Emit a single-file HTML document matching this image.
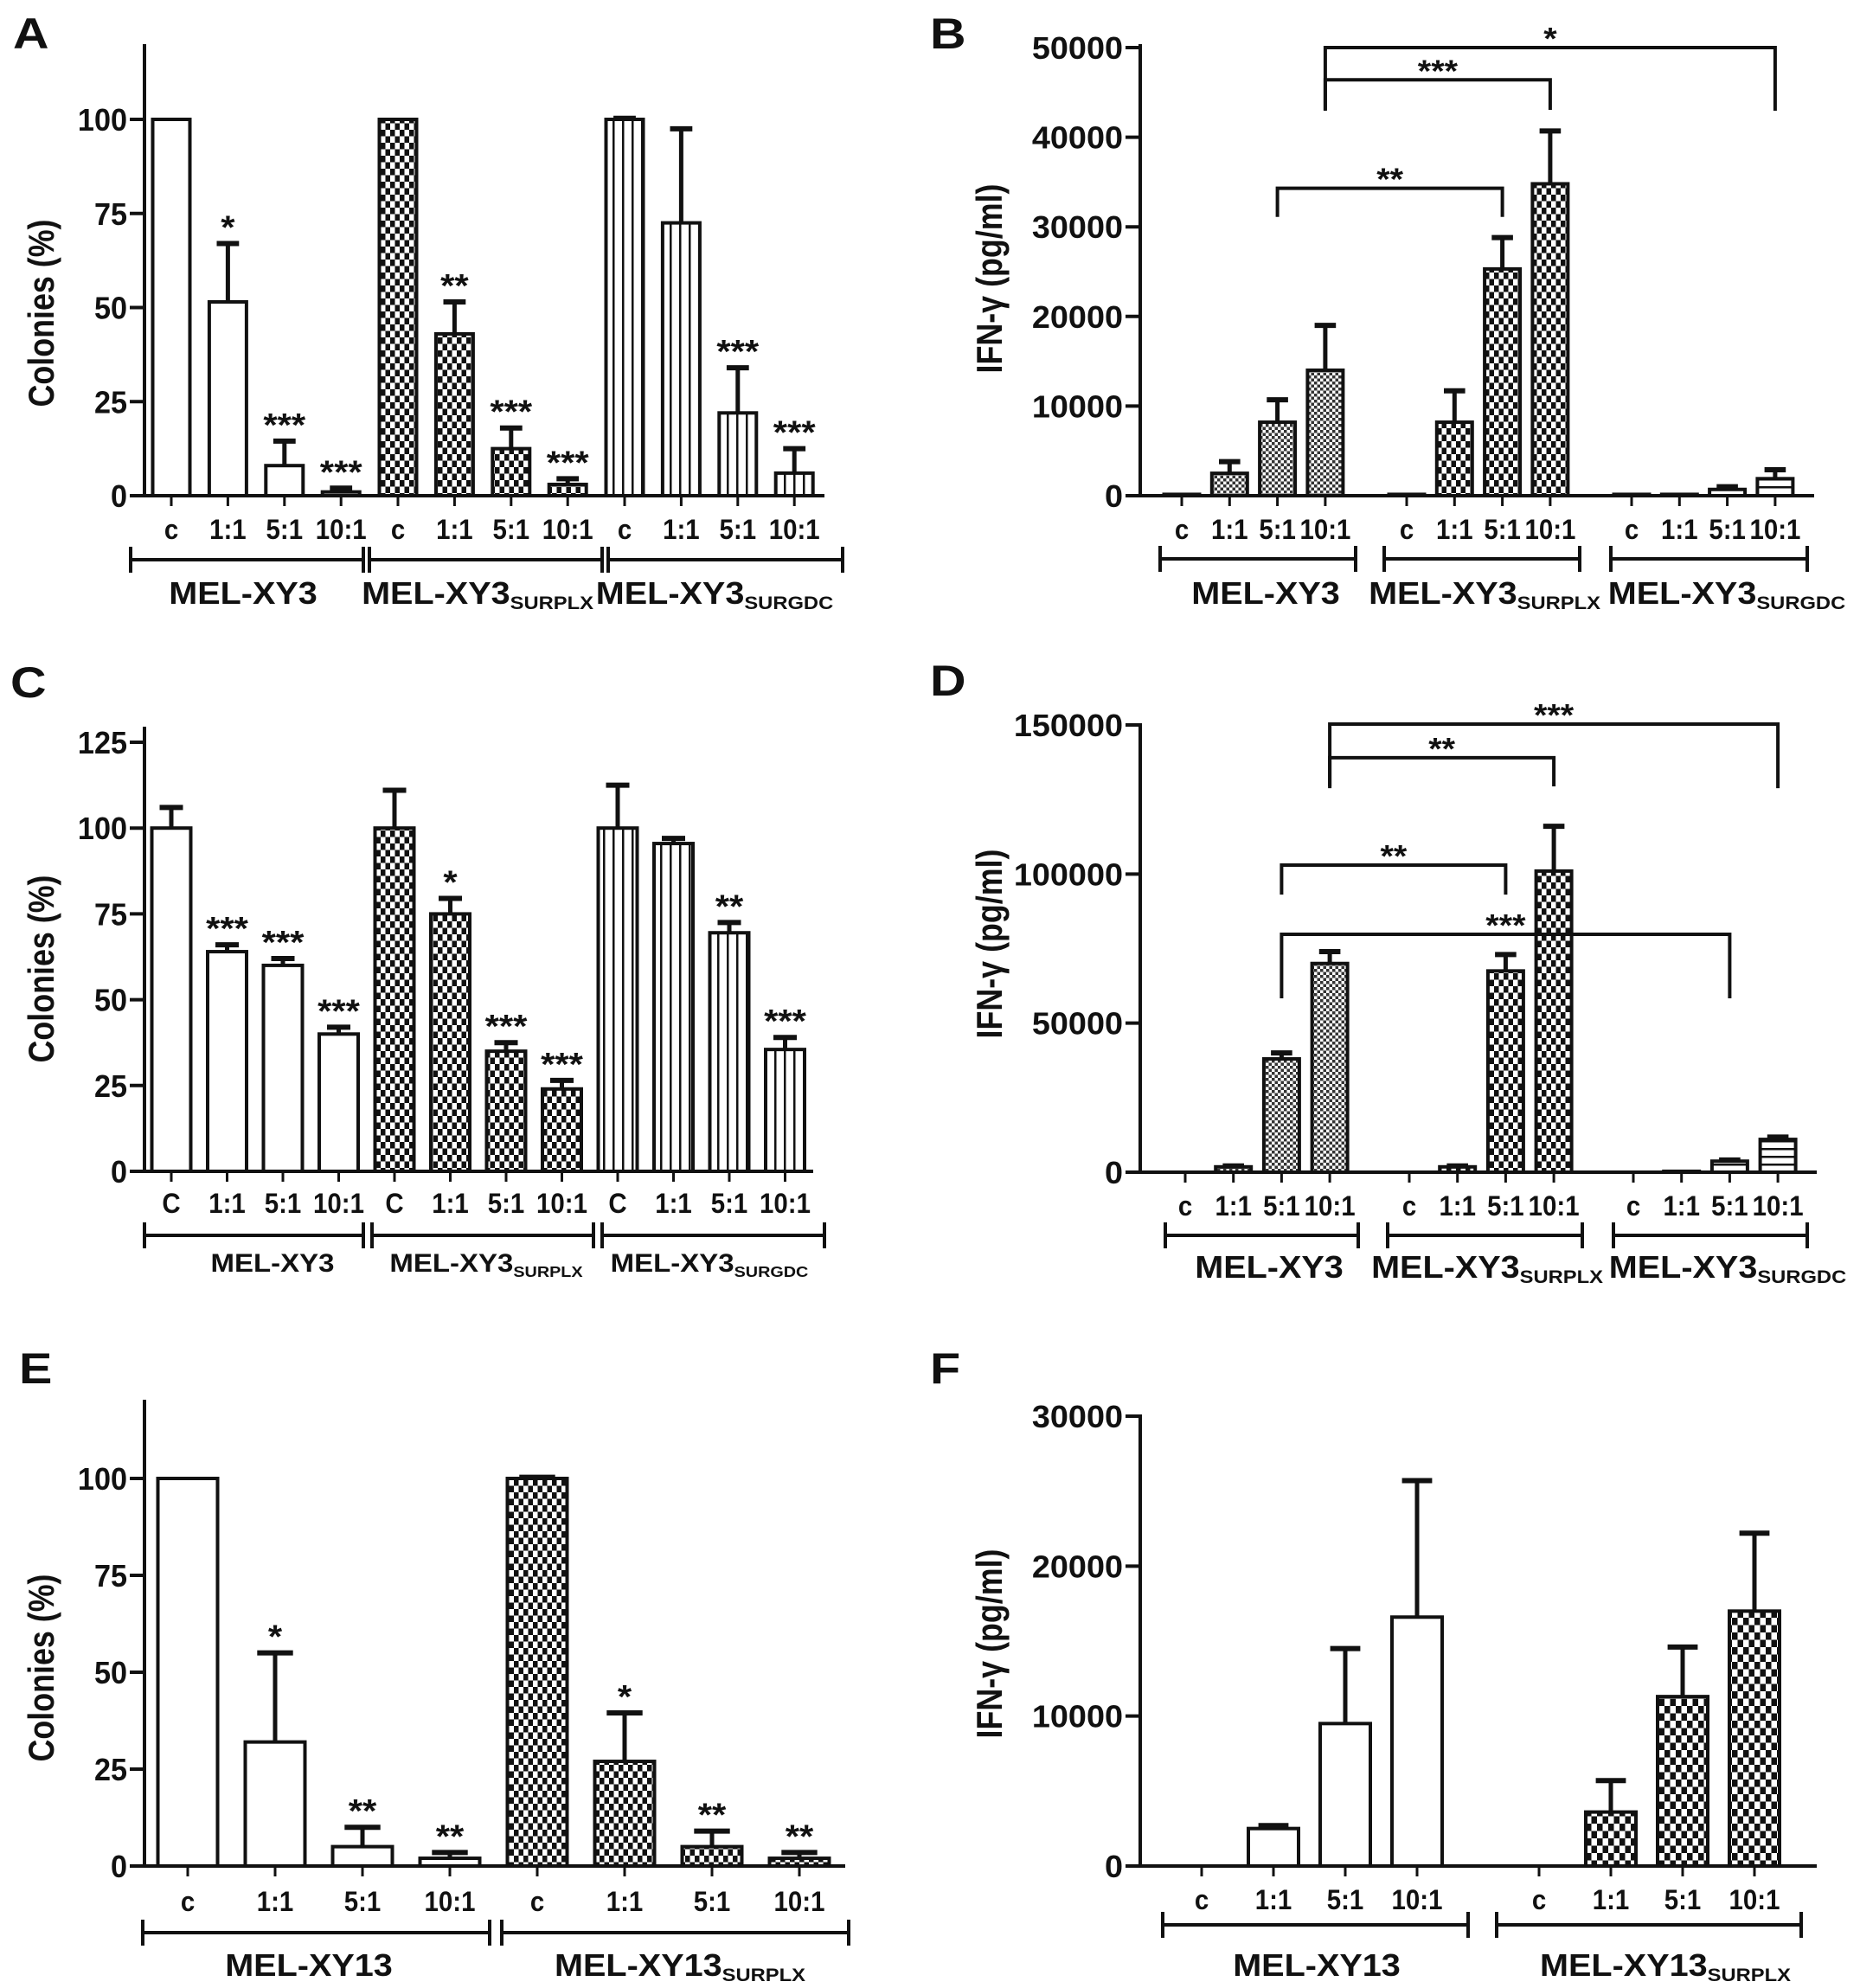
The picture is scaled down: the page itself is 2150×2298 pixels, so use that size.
<!DOCTYPE html>
<html><head><meta charset="utf-8"><style>
html,body{margin:0;padding:0;background:#fff;}
svg{display:block;font-family:"Liberation Sans",Arial,sans-serif;font-weight:bold;}
</style></head><body>
<svg id="chart" width="2150" height="2298" viewBox="0 0 2150 2298" xmlns="http://www.w3.org/2000/svg">
<defs>
<pattern id="p-check" width="11" height="15" patternUnits="userSpaceOnUse"><rect width="11" height="15" fill="#fff"/><rect width="5.5" height="7.5" fill="#111"/><rect x="5.5" y="7.5" width="5.5" height="7.5" fill="#111"/></pattern>
<pattern id="p-fine" width="7" height="7" patternUnits="userSpaceOnUse"><rect width="7" height="7" fill="#fff"/><rect width="3.5" height="3.5" fill="#333"/><rect x="3.5" y="3.5" width="3.5" height="3.5" fill="#333"/></pattern>
<pattern id="p-vlines" width="11" height="10" patternUnits="userSpaceOnUse"><rect width="11" height="10" fill="#fff"/><rect x="4" width="2.5" height="10" fill="#111"/></pattern>
<pattern id="p-hlines" width="10" height="9" patternUnits="userSpaceOnUse"><rect width="10" height="9" fill="#fff"/><rect y="4" width="10" height="2.5" fill="#111"/></pattern>
<pattern id="p-checkF" width="13" height="17" patternUnits="userSpaceOnUse"><rect width="13" height="17" fill="#fff"/><rect width="6.5" height="8.5" fill="#111"/><rect x="6.5" y="8.5" width="6.5" height="8.5" fill="#111"/></pattern>
</defs>
</svg>
<script>
// ---------- Panel A data ----------
const A_cats = ['c','1:1','5:1','10:1','c','1:1','5:1','10:1','c','1:1','5:1','10:1'];
const A_vals = [100,51.5,8,1,100,43,12.5,3,100,72.5,22,6];
const A_errs = [0,15.5,6.5,1,0,8.5,5.5,1.5,0.3,25,12,6.5];
const A_stars = ['','*','***','***','','**','***','***','','','***','***'];
const A_ticks = [0,25,50,75,100];
const A_groups = [['MEL-XY3',''],['MEL-XY3','SURPLX'],['MEL-XY3','SURGDC']];
// ---------- Panel B data ----------
const B_cats = ['c','1:1','5:1','10:1','c','1:1','5:1','10:1','c','1:1','5:1','10:1'];
const B_vals = [150,2500,8200,14000,150,8200,25300,34800,150,150,700,1900];
const B_errs = [0,1300,2500,5000,0,3500,3500,5900,0,0,300,1000];
const B_ticks = [0,10000,20000,30000,40000,50000];
const B_groups = [['MEL-XY3',''],['MEL-XY3','SURPLX'],['MEL-XY3','SURGDC']];
const B_brFrom = [3,3,2];
const B_brTo = [11,7,6];
const B_brLevel = [50000,46400,34300];
const B_brDrop = [42950,43050,31100];
const B_brLabel = ['*','***','**'];
// ---------- Panel C data ----------
const C_cats = ['C','1:1','5:1','10:1','C','1:1','5:1','10:1','C','1:1','5:1','10:1'];
const C_vals = [100,64,60,40,100,75,35,24,100,95.5,69.5,35.5];
const C_errs = [6,2,2,2,11,4.5,2.5,2.5,12.5,1.5,3,3.5];
const C_stars = ['','***','***','***','','*','***','***','','','**','***'];
const C_ticks = [0,25,50,75,100,125];
const C_groups = [['MEL-XY3',''],['MEL-XY3','SURPLX'],['MEL-XY3','SURGDC']];
// ---------- Panel D data ----------
const D_cats = ['c','1:1','5:1','10:1','c','1:1','5:1','10:1','c','1:1','5:1','10:1'];
const D_vals = [0,1800,38000,70000,0,1800,67500,101000,0,300,3700,11000];
const D_errs = [0,300,2000,4000,0,300,5500,15000,0,0,400,800];
const D_ticks = [0,50000,100000,150000];
const D_groups = [['MEL-XY3',''],['MEL-XY3','SURPLX'],['MEL-XY3','SURGDC']];
const D_brFrom = [3,3,2,2];
const D_brTo = [11,7,6,10];
const D_brLevel = [150300,139000,103000,79800];
const D_brDrop = [128800,129400,93100,58300];
const D_brLabel = ['***','**','**','***'];
// ---------- Panel E data ----------
const E_cats = ['c','1:1','5:1','10:1','c','1:1','5:1','10:1'];
const E_vals = [100,32,5,2,100,27,5,2];
const E_errs = [0,23,5,1.5,0.3,12.5,4,1.5];
const E_stars = ['','*','**','**','','*','**','**'];
const E_ticks = [0,25,50,75,100];
const E_groups = [['MEL-XY13',''],['MEL-XY13','SURPLX']];
// ---------- Panel F data ----------
const F_cats = ['c','1:1','5:1','10:1','c','1:1','5:1','10:1'];
const F_vals = [0,2500,9500,16600,0,3600,11300,17000];
const F_errs = [0,200,5000,9100,0,2100,3300,5200];
const F_ticks = [0,10000,20000,30000];
const F_groups = [['MEL-XY13',''],['MEL-XY13','SURPLX']];

const NS = 'http://www.w3.org/2000/svg';
const svg = document.getElementById('chart');
function mk(tag, attrs, parent){
  const e = document.createElementNS(NS, tag);
  for (const k in attrs) e.setAttribute(k, attrs[k]);
  parent.appendChild(e);
  return e;
}
function txt(str, x, y, size, sx, anchor, parent, rot, sy){
  const t = mk('text', {'font-size':size, 'text-anchor':anchor, fill:'#111',
    transform: rot ? `translate(${x},${y}) rotate(-90) scale(${sx},${sy||1})` : `translate(${x},${y}) scale(${sx},${sy||1})`}, parent);
  t.textContent = str;
  return t;
}

function drawPanel(cfg, cats, vals, errs, stars, ticks, groups, br){
  const g = mk('g', {}, svg);
  
  
  const k = (cfg.y0 - cfg.yRef) / cfg.vRef;
  const ys = v => cfg.y0 - v * k;
  const n = cats.length;
  const per = n / cfg.groupStarts.length;
  const xs = i => cfg.groupStarts[Math.floor(i / per)] + (i % per) * cfg.step;

  const L = txt(cfg.letter, cfg.lx, cfg.ly, 50, 1.15, 'start', g);
  
  

  for (let i = 0; i < n; i++){
    const v = vals[i], cx = xs(i), w = cfg.barW;
    if (v > 0){
      const r = mk('rect', {x: cx - w/2, y: ys(v), width: w, height: cfg.y0 - ys(v),
        fill: cfg.fills[Math.floor(i / per)], stroke: '#111', 'stroke-width': 4}, g);
      
      
    }
    if (errs[i] > 0){
      const top = ys(v + errs[i]);
      const e1 = mk('line', {x1: cx, x2: cx, y1: ys(v), y2: top, stroke: '#111', 'stroke-width': 5}, g);
      
      
      const e2 = mk('line', {x1: cx - w*0.3, x2: cx + w*0.3, y1: top, y2: top, stroke: '#111', 'stroke-width': 6}, g);
      
      
    }
    if (stars && stars[i]){
      const s = txt(stars[i], cx, ys(v + errs[i]) - 6, 38, 1.1, 'middle', g);
      
      
    }
    const tk = mk('line', {x1: cx, x2: cx, y1: cfg.y0, y2: cfg.y0 + 12, stroke: '#111', 'stroke-width': 3}, g);
    
    
    const cl = txt(cats[i], cx, cfg.catY + 2, 32, 0.92, 'middle', g);
    
    
  }

  const ya = mk('line', {x1: cfg.x0, x2: cfg.x0, y1: cfg.yTop, y2: cfg.y0 + 2, stroke: '#111', 'stroke-width': 4}, g);
  
  
  const xa = mk('line', {x1: cfg.x0 - 2, x2: cfg.xEnd, y1: cfg.y0, y2: cfg.y0, stroke: '#111', 'stroke-width': 4}, g);
  
  
  ticks.forEach(t => {
    const y = ys(t);
    const l = mk('line', {x1: cfg.x0 - 17, x2: cfg.x0, y1: y, y2: y, stroke: '#111', 'stroke-width': 4}, g);
    
    
    const tl = txt(String(t), cfg.x0 - 20, y + 13, 36, cfg.tickSx, 'end', g);
    
    
  });
  const tt = txt(cfg.title, cfg.tx, cfg.ty, 32, 1.12, 'middle', g, true, 1.3);
  
  

  groups.forEach((gr, j) => {
    const [a, b] = cfg.spans[j];
    const gl = mk('path', {d: `M${a},${cfg.groupY-15}V${cfg.groupY+15}M${a},${cfg.groupY}H${b}M${b},${cfg.groupY-15}V${cfg.groupY+15}`,
      stroke: '#111', 'stroke-width': 4, fill: 'none'}, g);
    
    
    const t = txt(gr[0], cfg.labelX[j], cfg.labelY, cfg.glSize, 1.1, 'middle', g);
    
    
    if (gr[1]){
      const ts = mk('tspan', {'font-size': cfg.glSize * 0.6, dy: 6}, t);
      ts.textContent = gr[1];
    }
  });

  if (br){
    for (let j = 0; j < br.from.length; j++){
      const x1 = xs(br.from[j]), x2 = xs(br.to[j]);
      const yl = ys(br.level[j]), yd = ys(br.drop[j]);
      const p = mk('path', {d: `M${x1},${yd}V${yl}H${x2}V${yd}`, stroke: '#111', 'stroke-width': 4, fill: 'none'}, g);
      
      
      const s = txt(br.label[j], (x1 + x2) / 2, yl + 2, 36, 1.1, 'middle', g);
      
      
    }
  }
}

const patA = ['#fff','url(#p-check)','url(#p-vlines)'];
const patB = ['url(#p-fine)','url(#p-check)','url(#p-hlines)'];

drawPanel({name:'panel-a', letter:'A', lx:15, ly:56, x0:167, xEnd:953, yTop:51, y0:573, yRef:138, vRef:100,
  groupStarts:[198,460,722], step:65.4, barW:43, catY:621, groupY:647,
  spans:[[151,420],[427,696],[703,974]], labelX:[281,552,826], labelY:698, glSize:36,
  title:'Colonies (%)', tx:62, ty:362, tickSx:0.95, fills:patA},
  A_cats, A_vals, A_errs, A_stars, A_ticks, A_groups, null);

drawPanel({name:'panel-b', letter:'B', lx:1075, ly:56, x0:1318, xEnd:2097, yTop:51, y0:573, yRef:55, vRef:50000,
  groupStarts:[1366,1626,1886], step:55.3, barW:41, catY:621, groupY:646,
  spans:[[1341,1567],[1600,1826],[1862,2089]], labelX:[1463,1716,1996], labelY:698, glSize:36,
  title:'IFN-γ (pg/ml)', tx:1158, ty:322, tickSx:1.05, fills:patB},
  B_cats, B_vals, B_errs, null, B_ticks, B_groups,
  {from:B_brFrom, to:B_brTo, level:B_brLevel, drop:B_brDrop, label:B_brLabel});

drawPanel({name:'panel-c', letter:'C', lx:12, ly:806, x0:167, xEnd:940, yTop:840, y0:1354, yRef:858, vRef:125,
  groupStarts:[198,456,714], step:64.5, barW:45, catY:1400, groupY:1428,
  spans:[[167,420],[430,686],[696,953]], labelX:[315,562,820], labelY:1470, glSize:30,
  title:'Colonies (%)', tx:62, ty:1120, tickSx:0.95, fills:patA},
  C_cats, C_vals, C_errs, C_stars, C_ticks, C_groups, null);

drawPanel({name:'panel-d', letter:'D', lx:1075, ly:804, x0:1318, xEnd:2100, yTop:836, y0:1355, yRef:838, vRef:150000,
  groupStarts:[1370,1629,1888], step:55.7, barW:41, catY:1403, groupY:1428,
  spans:[[1347,1570],[1604,1829],[1865,2089]], labelX:[1467,1719,1997], labelY:1477, glSize:36,
  title:'IFN-γ (pg/ml)', tx:1158, ty:1091, tickSx:1.05, fills:patB},
  D_cats, D_vals, D_errs, null, D_ticks, D_groups,
  {from:D_brFrom, to:D_brTo, level:D_brLevel, drop:D_brDrop, label:D_brLabel});

drawPanel({name:'panel-e', letter:'E', lx:22, ly:1599, x0:167, xEnd:977, yTop:1618, y0:2157, yRef:1709, vRef:100,
  groupStarts:[217,621], step:101, barW:69, catY:2207, groupY:2234,
  spans:[[165,566],[580,981]], labelX:[357,786], labelY:2284, glSize:36,
  title:'Colonies (%)', tx:62, ty:1928, tickSx:0.95, fills:['#fff','url(#p-check)']},
  E_cats, E_vals, E_errs, E_stars, E_ticks, E_groups, null);

drawPanel({name:'panel-f', letter:'F', lx:1075, ly:1599, x0:1318, xEnd:2100, yTop:1635, y0:2157, yRef:1637, vRef:30000,
  groupStarts:[1389,1779], step:83, barW:58, catY:2205, groupY:2225,
  spans:[[1344,1697],[1730,2082]], labelX:[1522,1925], labelY:2284, glSize:36,
  title:'IFN-γ (pg/ml)', tx:1158, ty:1900, tickSx:1.05, fills:['#fff','url(#p-checkF)']},
  F_cats, F_vals, F_errs, null, F_ticks, F_groups, null);
</script>
</body></html>
